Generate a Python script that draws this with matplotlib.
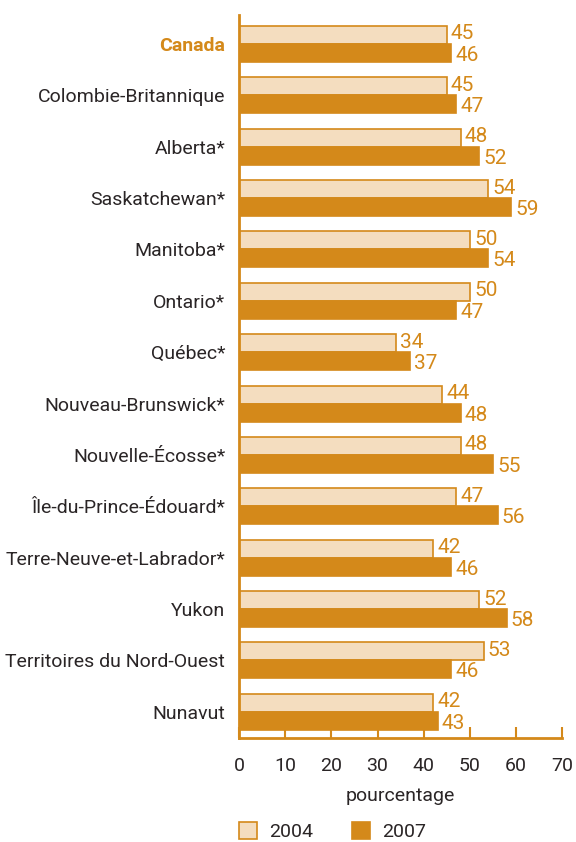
import matplotlib
matplotlib.use("Agg")
import matplotlib.pyplot as plt
import numpy as np
from matplotlib.patches import Patch

categories = ["Canada", "Colombie-Britannique", "Alberta*", "Saskatchewan*", "Manitoba*",
              "Ontario*", "Québec*", "Nouveau-Brunswick*", "Nouvelle-Écosse*",
              "Île-du-Prince-Édouard*", "Terre-Neuve-et-Labrador*", "Yukon",
              "Territoires du Nord-Ouest", "Nunavut"]
values_2004 = [45, 45, 48, 54, 50, 50, 34, 44, 48, 47, 42, 52, 53, 42]
values_2007 = [46, 47, 52, 59, 54, 47, 37, 48, 55, 56, 46, 58, 46, 43]
series_names = ["2004", "2007"]
xticks = [0, 10, 20, 30, 40, 50, 60, 70]
xlabel = "pourcentage"

ORANGE = "#D4891A"
LIGHT = "#F4DDBF"
TEXT = "#2A2526"
FONT = ["Roboto", "DejaVu Sans"]
plt.rcParams['font.family'] = FONT

fig = plt.figure(figsize=(5.76, 8.42), dpi=100)
ax = fig.add_axes([0.415, 0.1235, 0.561, 0.8585])

y = np.arange(len(categories))
h = 0.35
ax.barh(y - h/2, values_2004, height=h, color=LIGHT, edgecolor=ORANGE, linewidth=1.2)
ax.barh(y + h/2, values_2007, height=h, color=ORANGE, edgecolor=ORANGE, linewidth=1.2)

for i, (a, b) in enumerate(zip(values_2004, values_2007)):
    ax.text(a + 0.9, i - h/2 - 0.02, str(a), color=ORANGE, fontsize=15,
            va="center", ha="left")
    ax.text(b + 0.9, i + h/2 + 0.05, str(b), color=ORANGE, fontsize=15,
            va="center", ha="left")

ax.set_ylim(len(categories) - 1 + 0.51, -0.56)
ax.set_xlim(0, 70)
ax.set_yticks(y)
ax.set_yticklabels(categories, fontsize=14, color=TEXT)
for lbl in ax.get_yticklabels():
    if lbl.get_text() == "Canada":
        lbl.set_color(ORANGE)
        lbl.set_fontweight("bold")
ax.tick_params(axis="y", length=0, pad=10)
ax.set_xticks(xticks)
ax.set_xticklabels([str(t) for t in xticks], fontsize=14, color=TEXT)
ax.tick_params(axis="x", direction="in", length=8, width=1.5, color=ORANGE, pad=14)
for s in ["top", "right"]:
    ax.spines[s].set_visible(False)
for s in ["left", "bottom"]:
    ax.spines[s].set_color(ORANGE)
    ax.spines[s].set_linewidth(2)
ax.set_xlabel(xlabel, fontsize=14, color=TEXT, labelpad=8)

handles = [Patch(facecolor=LIGHT, edgecolor=ORANGE, linewidth=1.2),
           Patch(facecolor=ORANGE, edgecolor=ORANGE, linewidth=1.2)]
leg = fig.legend(handles, series_names, loc="lower left", bbox_to_anchor=(0.384, -0.02),
                 ncol=2, frameon=False, fontsize=14, handlelength=0.95, handleheight=0.95,
                 columnspacing=2.0, handletextpad=0.6)
for t in leg.get_texts():
    t.set_color(TEXT)

fig.savefig("out.png", dpi=100)
